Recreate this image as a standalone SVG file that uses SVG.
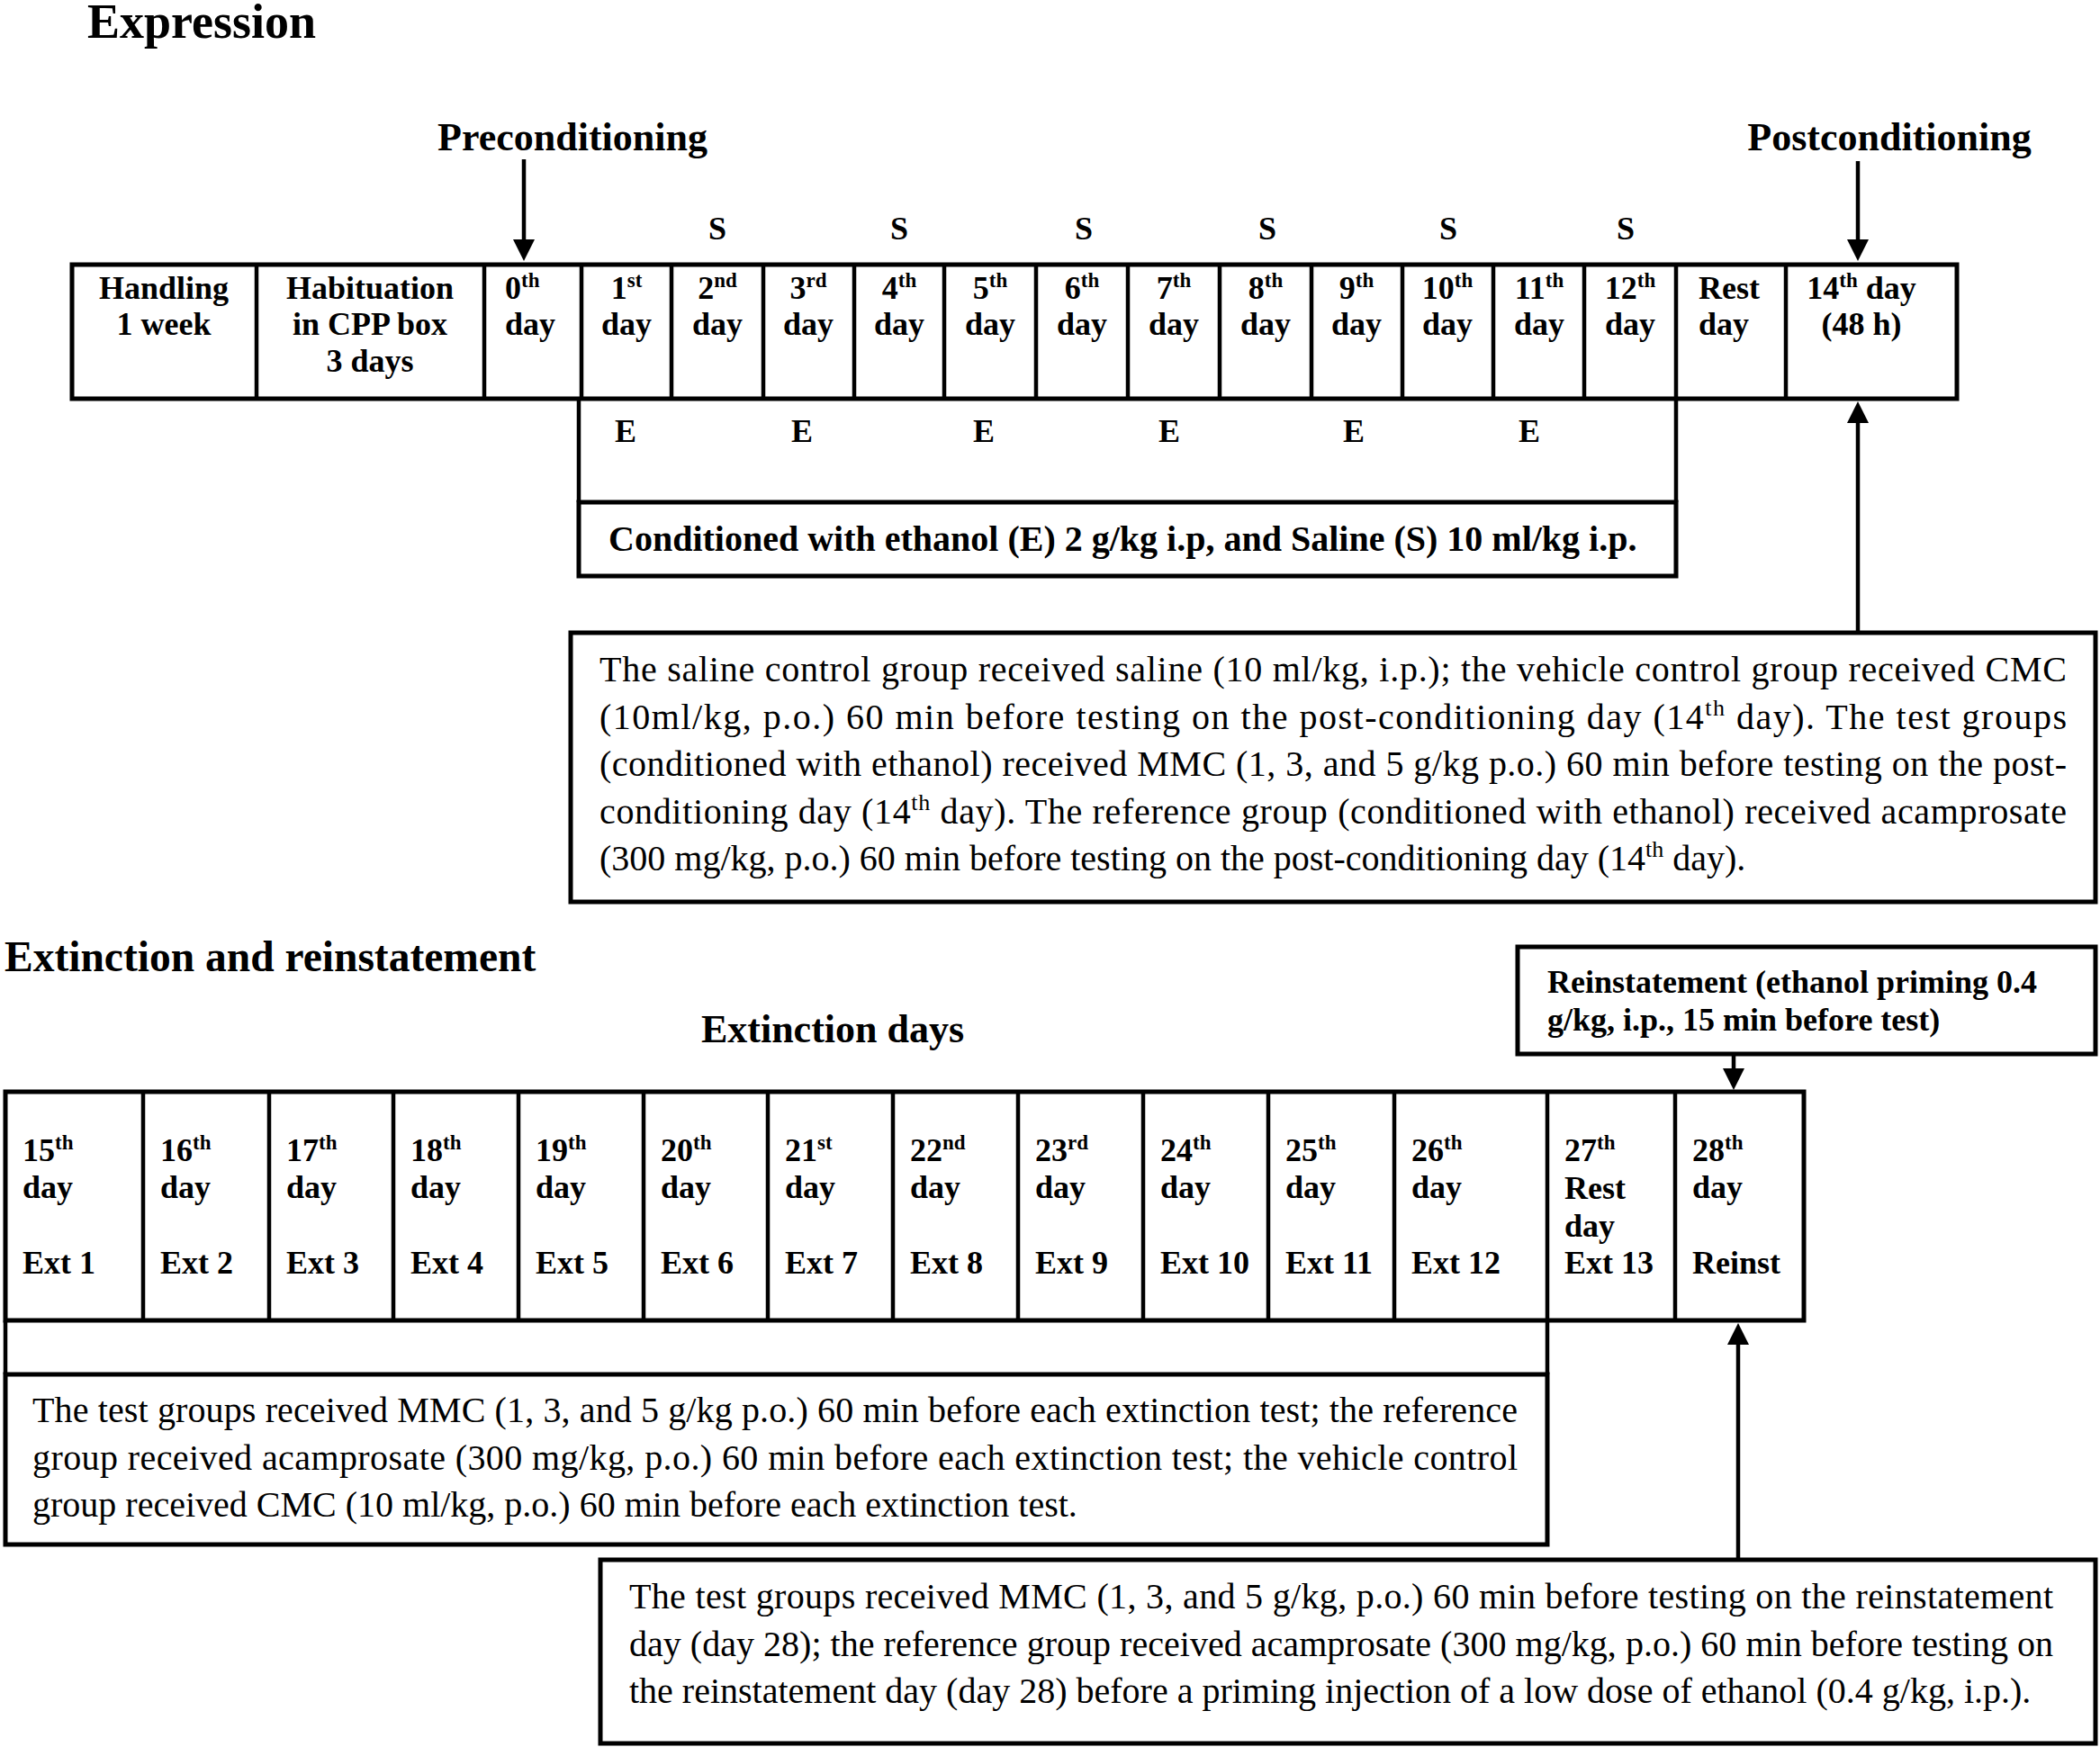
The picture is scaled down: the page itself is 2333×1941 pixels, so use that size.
<svg xmlns="http://www.w3.org/2000/svg" width="2333" height="1941" viewBox="0 0 2333 1941">
<style>
text{font-family:"Liberation Serif","Times New Roman",serif;fill:#000}
.b{font-weight:bold;font-size:36px}
.h{font-weight:bold;font-size:44px}
.r{font-size:40px}
.c{text-anchor:middle}
.sup{font-size:23px}
.rsup{font-size:26px}
.box{fill:none;stroke:#000;stroke-width:5}
.ln{fill:none;stroke:#000;stroke-width:4.5}
</style>
<defs>
<marker id="ah" markerUnits="userSpaceOnUse" markerWidth="24" markerHeight="24" refX="0" refY="12" orient="auto" viewBox="0 0 24 24">
<path d="M0,0 L24,12 L0,24 Z" fill="#000"/>
</marker>
</defs>
<rect width="2333" height="1941" fill="#fff"/>

<g id="titles">
<text x="97" y="42" style="font-weight:bold;font-size:54px">Expression</text>
<text x="5" y="1079" style="font-weight:bold;font-size:47.5px">Extinction and reinstatement</text>
<text class="h c" x="636" y="167">Preconditioning</text>
<text class="h c" x="2099" y="167">Postconditioning</text>
<text class="h c" x="925" y="1158">Extinction days</text>
</g>

<g id="expression-table">
<rect class="box" x="80" y="294" width="2094" height="149"/>
<path class="ln" d="M285,294V443M538,294V443M646,294V443M746,294V443M848,294V443M949,294V443M1049,294V443M1151,294V443M1253,294V443M1355,294V443M1457,294V443M1558,294V443M1659,294V443M1760,294V443M1862,294V443M1984,294V443"/>
<g id="cell-handling"><text class="b c" x="182" y="332">Handling</text><text class="b c" x="182" y="372">1 week</text></g>
<g id="cell-habituation"><text class="b c" x="411" y="332">Habituation</text><text class="b c" x="411" y="372">in CPP box</text><text class="b c" x="411" y="413">3 days</text></g>
<g id="cell-d0"><text class="b" x="561" y="332">0<tspan class="sup" dy="-13">th</tspan></text><text class="b" x="561" y="372">day</text></g>
<g id="cell-d1"><text class="b c" x="696" y="332">1<tspan class="sup" dy="-13">st</tspan></text><text class="b c" x="696" y="372">day</text></g>
<g id="cell-d2"><text class="b c" x="797" y="332">2<tspan class="sup" dy="-13">nd</tspan></text><text class="b c" x="797" y="372">day</text></g>
<g id="cell-d3"><text class="b c" x="898" y="332">3<tspan class="sup" dy="-13">rd</tspan></text><text class="b c" x="898" y="372">day</text></g>
<g id="cell-d4"><text class="b c" x="999" y="332">4<tspan class="sup" dy="-13">th</tspan></text><text class="b c" x="999" y="372">day</text></g>
<g id="cell-d5"><text class="b c" x="1100" y="332">5<tspan class="sup" dy="-13">th</tspan></text><text class="b c" x="1100" y="372">day</text></g>
<g id="cell-d6"><text class="b c" x="1202" y="332">6<tspan class="sup" dy="-13">th</tspan></text><text class="b c" x="1202" y="372">day</text></g>
<g id="cell-d7"><text class="b c" x="1304" y="332">7<tspan class="sup" dy="-13">th</tspan></text><text class="b c" x="1304" y="372">day</text></g>
<g id="cell-d8"><text class="b c" x="1406" y="332">8<tspan class="sup" dy="-13">th</tspan></text><text class="b c" x="1406" y="372">day</text></g>
<g id="cell-d9"><text class="b c" x="1507" y="332">9<tspan class="sup" dy="-13">th</tspan></text><text class="b c" x="1507" y="372">day</text></g>
<g id="cell-d10"><text class="b c" x="1608" y="332">10<tspan class="sup" dy="-13">th</tspan></text><text class="b c" x="1608" y="372">day</text></g>
<g id="cell-d11"><text class="b c" x="1710" y="332">11<tspan class="sup" dy="-13">th</tspan></text><text class="b c" x="1710" y="372">day</text></g>
<g id="cell-d12"><text class="b c" x="1811" y="332">12<tspan class="sup" dy="-13">th</tspan></text><text class="b c" x="1811" y="372">day</text></g>
<g id="cell-rest"><text class="b" x="1887" y="332">Rest</text><text class="b" x="1887" y="372">day</text></g>
<g id="cell-d14"><text class="b c" x="2068" y="332">14<tspan class="sup" dy="-13">th</tspan><tspan dy="13"> day</tspan></text><text class="b c" x="2068" y="372">(48 h)</text></g>
</g>

<g id="saline-labels">
<text class="b c" x="797" y="266">S</text><text class="b c" x="999" y="266">S</text><text class="b c" x="1204" y="266">S</text><text class="b c" x="1408" y="266">S</text><text class="b c" x="1609" y="266">S</text><text class="b c" x="1806" y="266">S</text>
</g>
<g id="ethanol-labels">
<text class="b c" x="695" y="491">E</text><text class="b c" x="891" y="491">E</text><text class="b c" x="1093" y="491">E</text><text class="b c" x="1299" y="491">E</text><text class="b c" x="1504" y="491">E</text><text class="b c" x="1699" y="491">E</text>
</g>

<g id="conditioning-box">
<rect class="box" x="643" y="558" width="1219" height="82"/>
<text class="b" x="676" y="612" style="font-size:40px">Conditioned with ethanol (E) 2 g/kg i.p, and Saline (S) 10 ml/kg i.p.</text>
</g>

<g id="expression-note">
<rect class="box" x="634" y="703" width="1694" height="299"/>
<text class="r" x="666" y="757" textLength="1630" lengthAdjust="spacing">The saline control group received saline (10 ml/kg, i.p.); the vehicle control group received CMC</text>
<text class="r" x="666" y="810" textLength="1630" lengthAdjust="spacing">(10ml/kg, p.o.) 60 min before testing on the post-conditioning day (14<tspan class="rsup" dy="-15">th</tspan><tspan dy="15"> day). The test groups</tspan></text>
<text class="r" x="666" y="862" textLength="1630" lengthAdjust="spacing">(conditioned with ethanol) received MMC (1, 3, and 5 g/kg p.o.) 60 min before testing on the post-</text>
<text class="r" x="666" y="915" textLength="1630" lengthAdjust="spacing">conditioning day (14<tspan class="rsup" dy="-15">th</tspan><tspan dy="15"> day). The reference group (conditioned with ethanol) received acamprosate</tspan></text>
<text class="r" x="666" y="967">(300 mg/kg, p.o.) 60 min before testing on the post-conditioning day (14<tspan class="rsup" dy="-15">th</tspan><tspan dy="15"> day).</tspan></text>
</g>

<g id="reinstatement-box">
<rect class="box" x="1686" y="1052" width="642" height="119"/>
<text class="b" x="1719" y="1103">Reinstatement (ethanol priming 0.4</text>
<text class="b" x="1719" y="1145">g/kg, i.p., 15 min before test)</text>
</g>

<g id="extinction-table">
<rect class="box" x="6" y="1213" width="1998" height="254"/>
<path class="ln" d="M159,1213V1467M299,1213V1467M437,1213V1467M576,1213V1467M715,1213V1467M853,1213V1467M992,1213V1467M1131,1213V1467M1270,1213V1467M1409,1213V1467M1549,1213V1467M1719,1213V1467M1861,1213V1467"/>
<g id="cell-d15"><text class="b" x="25" y="1290">15<tspan class="sup" dy="-13">th</tspan></text><text class="b" x="25" y="1331">day</text><text class="b" x="25" y="1415">Ext 1</text></g>
<g id="cell-d16"><text class="b" x="178" y="1290">16<tspan class="sup" dy="-13">th</tspan></text><text class="b" x="178" y="1331">day</text><text class="b" x="178" y="1415">Ext 2</text></g>
<g id="cell-d17"><text class="b" x="318" y="1290">17<tspan class="sup" dy="-13">th</tspan></text><text class="b" x="318" y="1331">day</text><text class="b" x="318" y="1415">Ext 3</text></g>
<g id="cell-d18"><text class="b" x="456" y="1290">18<tspan class="sup" dy="-13">th</tspan></text><text class="b" x="456" y="1331">day</text><text class="b" x="456" y="1415">Ext 4</text></g>
<g id="cell-d19"><text class="b" x="595" y="1290">19<tspan class="sup" dy="-13">th</tspan></text><text class="b" x="595" y="1331">day</text><text class="b" x="595" y="1415">Ext 5</text></g>
<g id="cell-d20"><text class="b" x="734" y="1290">20<tspan class="sup" dy="-13">th</tspan></text><text class="b" x="734" y="1331">day</text><text class="b" x="734" y="1415">Ext 6</text></g>
<g id="cell-d21"><text class="b" x="872" y="1290">21<tspan class="sup" dy="-13">st</tspan></text><text class="b" x="872" y="1331">day</text><text class="b" x="872" y="1415">Ext 7</text></g>
<g id="cell-d22"><text class="b" x="1011" y="1290">22<tspan class="sup" dy="-13">nd</tspan></text><text class="b" x="1011" y="1331">day</text><text class="b" x="1011" y="1415">Ext 8</text></g>
<g id="cell-d23"><text class="b" x="1150" y="1290">23<tspan class="sup" dy="-13">rd</tspan></text><text class="b" x="1150" y="1331">day</text><text class="b" x="1150" y="1415">Ext 9</text></g>
<g id="cell-d24"><text class="b" x="1289" y="1290">24<tspan class="sup" dy="-13">th</tspan></text><text class="b" x="1289" y="1331">day</text><text class="b" x="1289" y="1415">Ext 10</text></g>
<g id="cell-d25"><text class="b" x="1428" y="1290">25<tspan class="sup" dy="-13">th</tspan></text><text class="b" x="1428" y="1331">day</text><text class="b" x="1428" y="1415">Ext 11</text></g>
<g id="cell-d26"><text class="b" x="1568" y="1290">26<tspan class="sup" dy="-13">th</tspan></text><text class="b" x="1568" y="1331">day</text><text class="b" x="1568" y="1415">Ext 12</text></g>
<g id="cell-d27"><text class="b" x="1738" y="1290">27<tspan class="sup" dy="-13">th</tspan></text><text class="b" x="1738" y="1332">Rest</text><text class="b" x="1738" y="1374">day</text><text class="b" x="1738" y="1415">Ext 13</text></g>
<g id="cell-d28"><text class="b" x="1880" y="1290">28<tspan class="sup" dy="-13">th</tspan></text><text class="b" x="1880" y="1331">day</text><text class="b" x="1880" y="1415">Reinst</text></g>
</g>

<g id="extinction-note">
<rect class="box" x="6" y="1527" width="1713" height="189"/>
<text class="r" x="36" y="1580" textLength="1650" lengthAdjust="spacing">The test groups received MMC (1, 3, and 5 g/kg p.o.) 60 min before each extinction test; the reference</text>
<text class="r" x="36" y="1633" textLength="1650" lengthAdjust="spacing">group received acamprosate (300 mg/kg, p.o.) 60 min before each extinction test; the vehicle control</text>
<text class="r" x="36" y="1685">group received CMC (10 ml/kg, p.o.) 60 min before each extinction test.</text>
</g>

<g id="reinstatement-note">
<rect class="box" x="667" y="1733" width="1661" height="204"/>
<text class="r" x="699" y="1787" textLength="1582" lengthAdjust="spacing">The test groups received MMC (1, 3, and 5 g/kg, p.o.) 60 min before testing on the reinstatement</text>
<text class="r" x="699" y="1840" textLength="1582" lengthAdjust="spacing">day (day 28); the reference group received acamprosate (300 mg/kg, p.o.) 60 min before testing on</text>
<text class="r" x="699" y="1892">the reinstatement day (day 28) before a priming injection of a low dose of ethanol (0.4 g/kg, i.p.).</text>
</g>

<g id="connectors">
<path class="ln" d="M582,177V266" marker-end="url(#ah)"/>
<path class="ln" d="M2064,179V266" marker-end="url(#ah)"/>
<path class="ln" d="M2064,701V470" marker-end="url(#ah)"/>
<path class="ln" d="M643,443V558M1862,443V558"/>
<path class="ln" d="M6,1467V1527M1719,1467V1527"/>
<path class="ln" d="M1926,1172V1187" marker-end="url(#ah)"/>
<path class="ln" d="M1931,1731V1494" marker-end="url(#ah)"/>
</g>
</svg>
